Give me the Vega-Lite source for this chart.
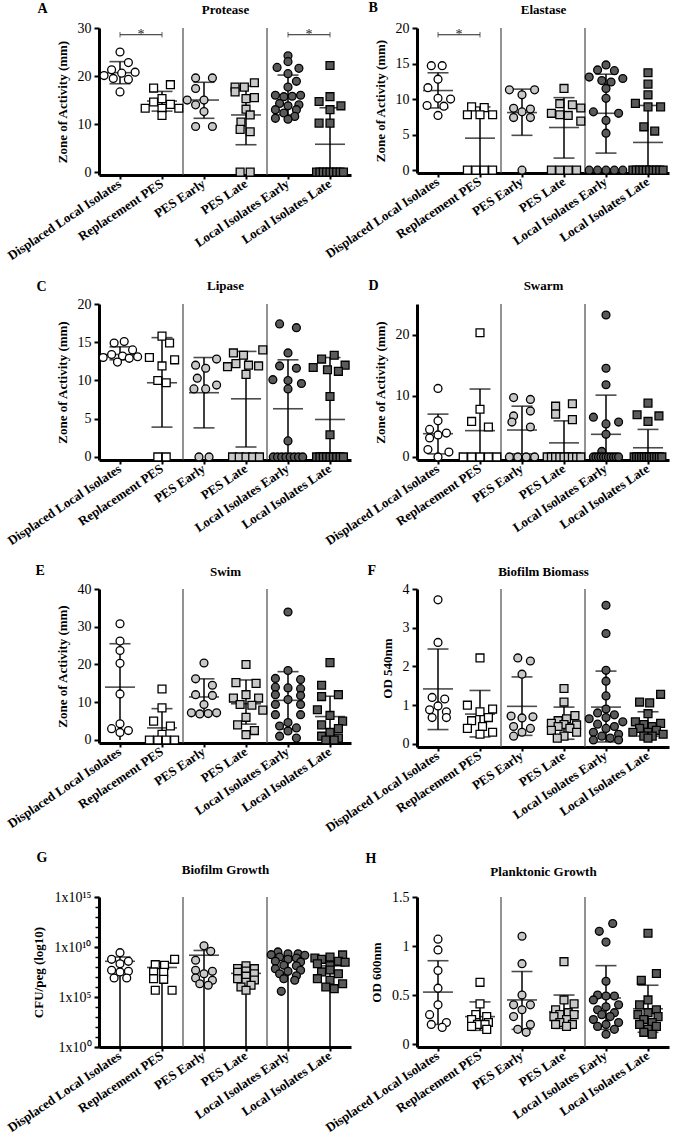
{
"$schema": "https://vega.github.io/schema/vega-lite/v6.json",
"padding": {"left": 5, "top": 0, "right": 2, "bottom": 0},
"background": "white",
"datasets": {
"sig": [
{"p":"A","g1":"DL","g2":"RP","y":28.6},{"p":"A","g1":"LE","g2":"LL","y":28.6},{"p":"B","g1":"DL","g2":"RP","y":19.05}
],
"sum": [
{"p":"A","g":"DL","mean":20.7,"lo":18.4,"hi":23.0},{"p":"A","g":"RP","mean":14.8,"lo":12.7,"hi":16.8},{"p":"A","g":"PE","mean":15.0,"lo":11.2,"hi":18.7},{"p":"A","g":"PL","mean":11.9,"lo":5.7,"hi":17.9},{"p":"A","g":"LE","mean":16.0,"lo":11.9,"hi":20.2},{"p":"A","g":"LL","mean":5.8,"lo":0,"hi":13.4},
{"p":"B","g":"DL","mean":11.2,"lo":8.75,"hi":13.7},{"p":"B","g":"RP","mean":4.5,"lo":0,"hi":8.9},{"p":"B","g":"PE","mean":8.1,"lo":4.9,"hi":11.4},{"p":"B","g":"PL","mean":6.0,"lo":1.7,"hi":10.2},{"p":"B","g":"LE","mean":8.0,"lo":2.4,"hi":13.5},{"p":"B","g":"LL","mean":3.9,"lo":0,"hi":9.1},
{"p":"C","g":"DL","mean":13.4,"lo":12.7,"hi":14.4},{"p":"C","g":"RP","mean":9.7,"lo":3.9,"hi":15.6},{"p":"C","g":"PE","mean":8.4,"lo":3.8,"hi":13.0},{"p":"C","g":"PL","mean":7.6,"lo":1.3,"hi":13.8},{"p":"C","g":"LE","mean":6.3,"lo":0,"hi":12.7},{"p":"C","g":"LL","mean":4.9,"lo":0,"hi":13.0},
{"p":"D","g":"DL","mean":3.8,"lo":0.5,"hi":7.0},{"p":"D","g":"RP","mean":4.3,"lo":0,"hi":11.1},{"p":"D","g":"PE","mean":4.4,"lo":0.5,"hi":8.3},{"p":"D","g":"PL","mean":2.3,"lo":0,"hi":5.9},{"p":"D","g":"LE","mean":3.7,"lo":0,"hi":10.1},{"p":"D","g":"LL","mean":1.5,"lo":0,"hi":4.5},
{"p":"E","g":"DL","mean":14.0,"lo":0,"hi":25.5},{"p":"E","g":"RP","mean":3.2,"lo":0,"hi":8.3},{"p":"E","g":"PE","mean":11.4,"lo":6.8,"hi":16.2},{"p":"E","g":"PL","mean":9.6,"lo":4.2,"hi":15.9},{"p":"E","g":"LE","mean":10.5,"lo":2.9,"hi":18.1},{"p":"E","g":"LL","mean":6.2,"lo":0.9,"hi":11.6},
{"p":"F","g":"DL","mean":1.42,"lo":0.37,"hi":2.45},{"p":"F","g":"RP","mean":0.77,"lo":0.18,"hi":1.38},{"p":"F","g":"PE","mean":0.97,"lo":0.22,"hi":1.73},{"p":"F","g":"PL","mean":0.52,"lo":0.12,"hi":0.95},{"p":"F","g":"LE","mean":0.95,"lo":0.05,"hi":1.88},{"p":"F","g":"LL","mean":0.52,"lo":0.2,"hi":0.83},
{"p":"G","g":"DL","mean":3.7e8,"lo":1,"hi":1.0e9},{"p":"G","g":"RP","mean":9e7,"lo":1,"hi":2.5e8},{"p":"G","g":"PE","mean":1.5e9,"lo":1,"hi":4.5e9},{"p":"G","g":"PL","mean":2.3e7,"lo":1,"hi":6e7},{"p":"G","g":"LE","mean":4.7e8,"lo":1,"hi":1.1e9},{"p":"G","g":"LL","mean":1.3e8,"lo":1,"hi":3.5e8},
{"p":"H","g":"DL","mean":0.53,"lo":0.2,"hi":0.85},{"p":"H","g":"RP","mean":0.28,"lo":0.14,"hi":0.43},{"p":"H","g":"PE","mean":0.45,"lo":0.15,"hi":0.74},{"p":"H","g":"PL","mean":0.33,"lo":0.16,"hi":0.5},{"p":"H","g":"LE","mean":0.47,"lo":0.15,"hi":0.8},{"p":"H","g":"LL","mean":0.36,"lo":0.12,"hi":0.6}
],
"pts": [
{"p":"A","g":"DL","v":25,"s":0},{"p":"A","g":"DL","v":22.8,"s":1},{"p":"A","g":"DL","v":21.3,"s":-1},{"p":"A","g":"DL","v":20.8,"s":1.8},{"p":"A","g":"DL","v":20.6,"s":0.2},{"p":"A","g":"DL","v":20.1,"s":-1.9},{"p":"A","g":"DL","v":19.5,"s":-0.8},{"p":"A","g":"DL","v":19.3,"s":1},{"p":"A","g":"DL","v":16.7,"s":0},
{"p":"A","g":"RP","v":18.2,"s":1},{"p":"A","g":"RP","v":17.5,"s":-1},{"p":"A","g":"RP","v":15.3,"s":0},{"p":"A","g":"RP","v":14.6,"s":-1},{"p":"A","g":"RP","v":14.1,"s":1},{"p":"A","g":"RP","v":13.3,"s":-2},{"p":"A","g":"RP","v":13.3,"s":0},{"p":"A","g":"RP","v":13.3,"s":2},{"p":"A","g":"RP","v":11.8,"s":0},
{"p":"A","g":"PE","v":19.6,"s":-1},{"p":"A","g":"PE","v":19.6,"s":1},{"p":"A","g":"PE","v":17.4,"s":-1},{"p":"A","g":"PE","v":15,"s":-2},{"p":"A","g":"PE","v":15,"s":0},{"p":"A","g":"PE","v":14,"s":-1},{"p":"A","g":"PE","v":12.6,"s":0},{"p":"A","g":"PE","v":9.5,"s":-1},{"p":"A","g":"PE","v":9.5,"s":1},
{"p":"A","g":"PL","v":18.6,"s":1},{"p":"A","g":"PL","v":17.7,"s":-1.3},{"p":"A","g":"PL","v":17.7,"s":-0.2},{"p":"A","g":"PL","v":16.7,"s":-1.3},{"p":"A","g":"PL","v":15.5,"s":1},{"p":"A","g":"PL","v":15.3,"s":0},{"p":"A","g":"PL","v":13.1,"s":0},{"p":"A","g":"PL","v":11.9,"s":0.5},{"p":"A","g":"PL","v":10.4,"s":-0.6},{"p":"A","g":"PL","v":8.9,"s":-0.7},{"p":"A","g":"PL","v":8.4,"s":0.5},{"p":"A","g":"PL","v":0,"s":-0.7},{"p":"A","g":"PL","v":0,"s":0.5},
{"p":"A","g":"LE","v":24.2,"s":0},{"p":"A","g":"LE","v":23,"s":0},{"p":"A","g":"LE","v":21.8,"s":-1.3},{"p":"A","g":"LE","v":21.6,"s":1.3},{"p":"A","g":"LE","v":20.5,"s":0},{"p":"A","g":"LE","v":18.9,"s":1},{"p":"A","g":"LE","v":17.7,"s":0},{"p":"A","g":"LE","v":16,"s":-1.5},{"p":"A","g":"LE","v":15.7,"s":-0.5},{"p":"A","g":"LE","v":15.8,"s":0.5},{"p":"A","g":"LE","v":16,"s":1.5},{"p":"A","g":"LE","v":14.3,"s":-1},{"p":"A","g":"LE","v":14,"s":1.3},{"p":"A","g":"LE","v":13.8,"s":0},{"p":"A","g":"LE","v":13,"s":-1.5},{"p":"A","g":"LE","v":13,"s":1},{"p":"A","g":"LE","v":12.3,"s":-0.5},{"p":"A","g":"LE","v":11.6,"s":0.8},{"p":"A","g":"LE","v":11.2,"s":-1.5},{"p":"A","g":"LE","v":11,"s":0},
{"p":"A","g":"LL","v":22.2,"s":0},{"p":"A","g":"LL","v":15.7,"s":0},{"p":"A","g":"LL","v":14.7,"s":-1.3},{"p":"A","g":"LL","v":13.8,"s":1.3},{"p":"A","g":"LL","v":13,"s":0},{"p":"A","g":"LL","v":10.2,"s":-1.3},{"p":"A","g":"LL","v":10.2,"s":0},{"p":"A","g":"LL","v":0,"s":-1.6},{"p":"A","g":"LL","v":0,"s":-1.2},{"p":"A","g":"LL","v":0,"s":-0.8},{"p":"A","g":"LL","v":0,"s":-0.4},{"p":"A","g":"LL","v":0,"s":0},{"p":"A","g":"LL","v":0,"s":0.4},{"p":"A","g":"LL","v":0,"s":0.8},{"p":"A","g":"LL","v":0,"s":1.2},{"p":"A","g":"LL","v":0,"s":1.6},
{"p":"B","g":"DL","v":14.7,"s":-0.8},{"p":"B","g":"DL","v":14.7,"s":0.5},{"p":"B","g":"DL","v":12.8,"s":0},{"p":"B","g":"DL","v":11.6,"s":-1.2},{"p":"B","g":"DL","v":10.1,"s":0},{"p":"B","g":"DL","v":10,"s":1.5},{"p":"B","g":"DL","v":9.1,"s":-1.3},{"p":"B","g":"DL","v":9,"s":0.7},{"p":"B","g":"DL","v":7.7,"s":0},
{"p":"B","g":"RP","v":8.9,"s":-1},{"p":"B","g":"RP","v":8.8,"s":0.5},{"p":"B","g":"RP","v":7.8,"s":-1.5},{"p":"B","g":"RP","v":7.8,"s":0},{"p":"B","g":"RP","v":7.8,"s":1.5},{"p":"B","g":"RP","v":0,"s":-1.5},{"p":"B","g":"RP","v":0,"s":-0.5},{"p":"B","g":"RP","v":0,"s":0.5},{"p":"B","g":"RP","v":0,"s":1.5},
{"p":"B","g":"PE","v":11.3,"s":-1.5},{"p":"B","g":"PE","v":11.3,"s":1.5},{"p":"B","g":"PE","v":10.6,"s":0},{"p":"B","g":"PE","v":8.7,"s":-1},{"p":"B","g":"PE","v":8.6,"s":1},{"p":"B","g":"PE","v":8.2,"s":0},{"p":"B","g":"PE","v":7.4,"s":-1},{"p":"B","g":"PE","v":7.4,"s":1},{"p":"B","g":"PE","v":0,"s":0},
{"p":"B","g":"PL","v":11.5,"s":0},{"p":"B","g":"PL","v":9.35,"s":-0.5},{"p":"B","g":"PL","v":9.2,"s":1},{"p":"B","g":"PL","v":8.75,"s":2},{"p":"B","g":"PL","v":8,"s":-1.5},{"p":"B","g":"PL","v":7.8,"s":-0.5},{"p":"B","g":"PL","v":7.7,"s":0.5},{"p":"B","g":"PL","v":6.9,"s":2},{"p":"B","g":"PL","v":0,"s":-1.5},{"p":"B","g":"PL","v":0,"s":-0.5},{"p":"B","g":"PL","v":0,"s":0.5},{"p":"B","g":"PL","v":0,"s":1.5},
{"p":"B","g":"LE","v":14.8,"s":0},{"p":"B","g":"LE","v":14.1,"s":-1},{"p":"B","g":"LE","v":14,"s":1},{"p":"B","g":"LE","v":13.1,"s":-2},{"p":"B","g":"LE","v":12.9,"s":2},{"p":"B","g":"LE","v":12.6,"s":-0.5},{"p":"B","g":"LE","v":12.4,"s":0.6},{"p":"B","g":"LE","v":11.5,"s":0},{"p":"B","g":"LE","v":10.1,"s":0},{"p":"B","g":"LE","v":8.2,"s":-1.5},{"p":"B","g":"LE","v":8,"s":1.5},{"p":"B","g":"LE","v":7,"s":0},{"p":"B","g":"LE","v":5.2,"s":0},{"p":"B","g":"LE","v":0,"s":-2},{"p":"B","g":"LE","v":0,"s":-1},{"p":"B","g":"LE","v":0,"s":0},{"p":"B","g":"LE","v":0,"s":1},{"p":"B","g":"LE","v":0,"s":2},
{"p":"B","g":"LL","v":13.7,"s":0},{"p":"B","g":"LL","v":12.1,"s":0},{"p":"B","g":"LL","v":10.6,"s":0},{"p":"B","g":"LL","v":9.4,"s":-1.5},{"p":"B","g":"LL","v":8.9,"s":0},{"p":"B","g":"LL","v":8.9,"s":1.5},{"p":"B","g":"LL","v":6.1,"s":-0.5},{"p":"B","g":"LL","v":5.5,"s":0.8},{"p":"B","g":"LL","v":0,"s":-1.8},{"p":"B","g":"LL","v":0,"s":-1.4},{"p":"B","g":"LL","v":0,"s":-1},{"p":"B","g":"LL","v":0,"s":-0.6},{"p":"B","g":"LL","v":0,"s":-0.2},{"p":"B","g":"LL","v":0,"s":0.2},{"p":"B","g":"LL","v":0,"s":0.6},{"p":"B","g":"LL","v":0,"s":1},{"p":"B","g":"LL","v":0,"s":1.4},{"p":"B","g":"LL","v":0,"s":1.8},
{"p":"C","g":"DL","v":15.1,"s":0.5},{"p":"C","g":"DL","v":14.9,"s":-0.7},{"p":"C","g":"DL","v":14,"s":1.5},{"p":"C","g":"DL","v":13.4,"s":-1},{"p":"C","g":"DL","v":13.2,"s":0.3},{"p":"C","g":"DL","v":13.1,"s":2.1},{"p":"C","g":"DL","v":13,"s":-2},{"p":"C","g":"DL","v":12.9,"s":1.1},{"p":"C","g":"DL","v":12.4,"s":-0.3},
{"p":"C","g":"RP","v":15.8,"s":0},{"p":"C","g":"RP","v":14.9,"s":0.9},{"p":"C","g":"RP","v":13,"s":-1.5},{"p":"C","g":"RP","v":12.7,"s":1.5},{"p":"C","g":"RP","v":11.9,"s":0},{"p":"C","g":"RP","v":10,"s":-0.5},{"p":"C","g":"RP","v":9.7,"s":0.5},{"p":"C","g":"RP","v":0,"s":-0.5},{"p":"C","g":"RP","v":0,"s":0.5},
{"p":"C","g":"PE","v":12.8,"s":1.5},{"p":"C","g":"PE","v":12,"s":-1},{"p":"C","g":"PE","v":11.6,"s":0.2},{"p":"C","g":"PE","v":10.3,"s":-0.8},{"p":"C","g":"PE","v":9.4,"s":1.5},{"p":"C","g":"PE","v":8.9,"s":-1.2},{"p":"C","g":"PE","v":8.9,"s":0.2},{"p":"C","g":"PE","v":0,"s":-0.6},{"p":"C","g":"PE","v":0,"s":0.6},
{"p":"C","g":"PL","v":14,"s":2},{"p":"C","g":"PL","v":13.6,"s":-1.5},{"p":"C","g":"PL","v":13.3,"s":-0.3},{"p":"C","g":"PL","v":12.2,"s":-1.2},{"p":"C","g":"PL","v":12,"s":0.3},{"p":"C","g":"PL","v":11.9,"s":1.5},{"p":"C","g":"PL","v":11.8,"s":-2.2},{"p":"C","g":"PL","v":10.8,"s":0},{"p":"C","g":"PL","v":0,"s":-1.6},{"p":"C","g":"PL","v":0,"s":-0.8},{"p":"C","g":"PL","v":0,"s":0},{"p":"C","g":"PL","v":0,"s":0.8},{"p":"C","g":"PL","v":0,"s":1.6},
{"p":"C","g":"LE","v":17.4,"s":-1},{"p":"C","g":"LE","v":16.9,"s":1},{"p":"C","g":"LE","v":13.6,"s":0},{"p":"C","g":"LE","v":11.9,"s":-1},{"p":"C","g":"LE","v":11.6,"s":1},{"p":"C","g":"LE","v":10.1,"s":-1.8},{"p":"C","g":"LE","v":10,"s":0},{"p":"C","g":"LE","v":9.6,"s":1.6},{"p":"C","g":"LE","v":8.9,"s":0},{"p":"C","g":"LE","v":2.1,"s":0},{"p":"C","g":"LE","v":0,"s":-1.75},{"p":"C","g":"LE","v":0,"s":-1.25},{"p":"C","g":"LE","v":0,"s":-0.75},{"p":"C","g":"LE","v":0,"s":-0.25},{"p":"C","g":"LE","v":0,"s":0.25},{"p":"C","g":"LE","v":0,"s":0.75},{"p":"C","g":"LE","v":0,"s":1.25},{"p":"C","g":"LE","v":0,"s":1.75},
{"p":"C","g":"LL","v":13.3,"s":0.5},{"p":"C","g":"LL","v":12.8,"s":-1},{"p":"C","g":"LL","v":12,"s":1.8},{"p":"C","g":"LL","v":11.7,"s":-2},{"p":"C","g":"LL","v":11.4,"s":-0.3},{"p":"C","g":"LL","v":11.2,"s":1},{"p":"C","g":"LL","v":7.9,"s":0},{"p":"C","g":"LL","v":2.9,"s":0},{"p":"C","g":"LL","v":0,"s":-1.6},{"p":"C","g":"LL","v":0,"s":-1.2},{"p":"C","g":"LL","v":0,"s":-0.8},{"p":"C","g":"LL","v":0,"s":-0.4},{"p":"C","g":"LL","v":0,"s":0},{"p":"C","g":"LL","v":0,"s":0.4},{"p":"C","g":"LL","v":0,"s":0.8},{"p":"C","g":"LL","v":0,"s":1.2},{"p":"C","g":"LL","v":0,"s":1.6},
{"p":"D","g":"DL","v":11.2,"s":0},{"p":"D","g":"DL","v":5.9,"s":0},{"p":"D","g":"DL","v":4.5,"s":-1},{"p":"D","g":"DL","v":3.9,"s":1},{"p":"D","g":"DL","v":3.6,"s":0},{"p":"D","g":"DL","v":3.1,"s":-1},{"p":"D","g":"DL","v":1.2,"s":-1.2},{"p":"D","g":"DL","v":0.8,"s":1.3},{"p":"D","g":"DL","v":0,"s":0},
{"p":"D","g":"RP","v":20.3,"s":0},{"p":"D","g":"RP","v":7.8,"s":0},{"p":"D","g":"RP","v":5.8,"s":-1},{"p":"D","g":"RP","v":4.9,"s":1},{"p":"D","g":"RP","v":0,"s":-2},{"p":"D","g":"RP","v":0,"s":-1},{"p":"D","g":"RP","v":0,"s":0},{"p":"D","g":"RP","v":0,"s":1},{"p":"D","g":"RP","v":0,"s":2},
{"p":"D","g":"PE","v":9.7,"s":-1},{"p":"D","g":"PE","v":9.4,"s":1},{"p":"D","g":"PE","v":7.5,"s":1},{"p":"D","g":"PE","v":6.7,"s":-1},{"p":"D","g":"PE","v":5.7,"s":-1.2},{"p":"D","g":"PE","v":4.9,"s":1},{"p":"D","g":"PE","v":0,"s":-1.5},{"p":"D","g":"PE","v":0,"s":-0.5},{"p":"D","g":"PE","v":0,"s":0.5},{"p":"D","g":"PE","v":0,"s":1.5},
{"p":"D","g":"PL","v":8.7,"s":1},{"p":"D","g":"PL","v":8.3,"s":-1},{"p":"D","g":"PL","v":7,"s":-1},{"p":"D","g":"PL","v":6.1,"s":1},{"p":"D","g":"PL","v":0,"s":-2},{"p":"D","g":"PL","v":0,"s":-1.5},{"p":"D","g":"PL","v":0,"s":-1},{"p":"D","g":"PL","v":0,"s":-0.5},{"p":"D","g":"PL","v":0,"s":0},{"p":"D","g":"PL","v":0,"s":0.5},{"p":"D","g":"PL","v":0,"s":1},{"p":"D","g":"PL","v":0,"s":1.5},{"p":"D","g":"PL","v":0,"s":2},
{"p":"D","g":"LE","v":23.2,"s":0},{"p":"D","g":"LE","v":14.5,"s":0},{"p":"D","g":"LE","v":11.8,"s":0},{"p":"D","g":"LE","v":6.5,"s":-1.5},{"p":"D","g":"LE","v":5.7,"s":1.5},{"p":"D","g":"LE","v":5.4,"s":0},{"p":"D","g":"LE","v":3.7,"s":0},{"p":"D","g":"LE","v":0.9,"s":-0.5},{"p":"D","g":"LE","v":0,"s":-1.5},{"p":"D","g":"LE","v":0,"s":-1.2},{"p":"D","g":"LE","v":0,"s":-0.9},{"p":"D","g":"LE","v":0,"s":-0.6},{"p":"D","g":"LE","v":0,"s":-0.3},{"p":"D","g":"LE","v":0,"s":0},{"p":"D","g":"LE","v":0,"s":0.3},{"p":"D","g":"LE","v":0,"s":0.6},{"p":"D","g":"LE","v":0,"s":0.9},{"p":"D","g":"LE","v":0,"s":1.2},{"p":"D","g":"LE","v":0,"s":1.5},
{"p":"D","g":"LL","v":8.8,"s":0},{"p":"D","g":"LL","v":6.9,"s":-1.3},{"p":"D","g":"LL","v":6.7,"s":1.3},{"p":"D","g":"LL","v":5.8,"s":0},{"p":"D","g":"LL","v":0,"s":-1.65},{"p":"D","g":"LL","v":0,"s":-1.35},{"p":"D","g":"LL","v":0,"s":-1.05},{"p":"D","g":"LL","v":0,"s":-0.75},{"p":"D","g":"LL","v":0,"s":-0.45},{"p":"D","g":"LL","v":0,"s":-0.15},{"p":"D","g":"LL","v":0,"s":0.15},{"p":"D","g":"LL","v":0,"s":0.45},{"p":"D","g":"LL","v":0,"s":0.75},{"p":"D","g":"LL","v":0,"s":1.05},{"p":"D","g":"LL","v":0,"s":1.35},{"p":"D","g":"LL","v":0,"s":1.65},
{"p":"E","g":"DL","v":30.8,"s":0},{"p":"E","g":"DL","v":26.2,"s":0},{"p":"E","g":"DL","v":23.7,"s":0},{"p":"E","g":"DL","v":20.3,"s":0},{"p":"E","g":"DL","v":12.2,"s":0},{"p":"E","g":"DL","v":4.3,"s":0},{"p":"E","g":"DL","v":3,"s":-1},{"p":"E","g":"DL","v":2.5,"s":1},{"p":"E","g":"DL","v":2,"s":0},
{"p":"E","g":"RP","v":13.5,"s":0},{"p":"E","g":"RP","v":8.5,"s":0},{"p":"E","g":"RP","v":5,"s":-1},{"p":"E","g":"RP","v":3.7,"s":1},{"p":"E","g":"RP","v":1.5,"s":0},{"p":"E","g":"RP","v":0,"s":-1.5},{"p":"E","g":"RP","v":0,"s":-0.5},{"p":"E","g":"RP","v":0,"s":0.5},{"p":"E","g":"RP","v":0,"s":1.5},
{"p":"E","g":"PE","v":20.4,"s":0},{"p":"E","g":"PE","v":16.2,"s":-1},{"p":"E","g":"PE","v":14.5,"s":1},{"p":"E","g":"PE","v":12,"s":-1},{"p":"E","g":"PE","v":11.8,"s":1},{"p":"E","g":"PE","v":9.4,"s":0},{"p":"E","g":"PE","v":7.2,"s":-1.5},{"p":"E","g":"PE","v":7.2,"s":1.5},{"p":"E","g":"PE","v":6.9,"s":-0.5},{"p":"E","g":"PE","v":7,"s":0.5},
{"p":"E","g":"PL","v":20,"s":0},{"p":"E","g":"PL","v":15.2,"s":-1.2},{"p":"E","g":"PL","v":15,"s":1.2},{"p":"E","g":"PL","v":12,"s":0},{"p":"E","g":"PL","v":11.1,"s":-1.5},{"p":"E","g":"PL","v":11.1,"s":1.5},{"p":"E","g":"PL","v":9.4,"s":-0.7},{"p":"E","g":"PL","v":9.2,"s":0.7},{"p":"E","g":"PL","v":7.9,"s":2},{"p":"E","g":"PL","v":6,"s":0},{"p":"E","g":"PL","v":4,"s":-1},{"p":"E","g":"PL","v":2.5,"s":1},{"p":"E","g":"PL","v":1.4,"s":0},
{"p":"E","g":"LE","v":33.9,"s":0},{"p":"E","g":"LE","v":18.4,"s":0},{"p":"E","g":"LE","v":16.3,"s":-1.5},{"p":"E","g":"LE","v":16,"s":1.5},{"p":"E","g":"LE","v":14,"s":-1.5},{"p":"E","g":"LE","v":13.8,"s":0},{"p":"E","g":"LE","v":13.6,"s":1.5},{"p":"E","g":"LE","v":12,"s":-1.5},{"p":"E","g":"LE","v":11.8,"s":1.5},{"p":"E","g":"LE","v":10.7,"s":0},{"p":"E","g":"LE","v":9.4,"s":-1.5},{"p":"E","g":"LE","v":9.4,"s":1.5},{"p":"E","g":"LE","v":6.7,"s":-1.5},{"p":"E","g":"LE","v":6.7,"s":1.5},{"p":"E","g":"LE","v":4.6,"s":0},{"p":"E","g":"LE","v":3.7,"s":-1},{"p":"E","g":"LE","v":3.2,"s":1},{"p":"E","g":"LE","v":2.4,"s":0},{"p":"E","g":"LE","v":1,"s":-1},{"p":"E","g":"LE","v":0.5,"s":1},
{"p":"E","g":"LL","v":20.5,"s":0},{"p":"E","g":"LL","v":14.5,"s":-1},{"p":"E","g":"LL","v":12,"s":1},{"p":"E","g":"LL","v":11.5,"s":-1},{"p":"E","g":"LL","v":8,"s":-1.5},{"p":"E","g":"LL","v":6.5,"s":0},{"p":"E","g":"LL","v":5,"s":1.5},{"p":"E","g":"LL","v":4,"s":-1},{"p":"E","g":"LL","v":3,"s":1},{"p":"E","g":"LL","v":2,"s":0},{"p":"E","g":"LL","v":1,"s":-1},{"p":"E","g":"LL","v":0.5,"s":1},{"p":"E","g":"LL","v":0,"s":-0.5},{"p":"E","g":"LL","v":0,"s":0.5},
{"p":"F","g":"DL","v":3.72,"s":0},{"p":"F","g":"DL","v":2.62,"s":0},{"p":"F","g":"DL","v":1.2,"s":-0.7},{"p":"F","g":"DL","v":1.16,"s":0.8},{"p":"F","g":"DL","v":0.98,"s":0},{"p":"F","g":"DL","v":0.88,"s":-1},{"p":"F","g":"DL","v":0.83,"s":1},{"p":"F","g":"DL","v":0.68,"s":-0.7},{"p":"F","g":"DL","v":0.68,"s":1},
{"p":"F","g":"RP","v":2.22,"s":0},{"p":"F","g":"RP","v":1,"s":-1.5},{"p":"F","g":"RP","v":0.9,"s":1.5},{"p":"F","g":"RP","v":0.83,"s":0},{"p":"F","g":"RP","v":0.68,"s":1},{"p":"F","g":"RP","v":0.6,"s":-1},{"p":"F","g":"RP","v":0.45,"s":0.3},{"p":"F","g":"RP","v":0.4,"s":-1.5},{"p":"F","g":"RP","v":0.3,"s":1.5},{"p":"F","g":"RP","v":0.25,"s":0},
{"p":"F","g":"PE","v":2.22,"s":-0.5},{"p":"F","g":"PE","v":2.14,"s":1},{"p":"F","g":"PE","v":1.8,"s":0},{"p":"F","g":"PE","v":0.72,"s":-1.3},{"p":"F","g":"PE","v":0.7,"s":1.3},{"p":"F","g":"PE","v":0.67,"s":0},{"p":"F","g":"PE","v":0.45,"s":-1},{"p":"F","g":"PE","v":0.4,"s":1},{"p":"F","g":"PE","v":0.3,"s":0},{"p":"F","g":"PE","v":0.2,"s":-1},
{"p":"F","g":"PL","v":1.43,"s":0},{"p":"F","g":"PL","v":1.08,"s":0},{"p":"F","g":"PL","v":0.73,"s":1.3},{"p":"F","g":"PL","v":0.65,"s":0.3},{"p":"F","g":"PL","v":0.6,"s":-0.7},{"p":"F","g":"PL","v":0.53,"s":-1.5},{"p":"F","g":"PL","v":0.5,"s":0},{"p":"F","g":"PL","v":0.49,"s":1.5},{"p":"F","g":"PL","v":0.45,"s":-0.7},{"p":"F","g":"PL","v":0.4,"s":0.7},{"p":"F","g":"PL","v":0.35,"s":-1.5},{"p":"F","g":"PL","v":0.3,"s":1.5},{"p":"F","g":"PL","v":0.2,"s":0},{"p":"F","g":"PL","v":0.15,"s":-0.8},
{"p":"F","g":"LE","v":3.58,"s":0},{"p":"F","g":"LE","v":2.85,"s":0},{"p":"F","g":"LE","v":1.9,"s":0},{"p":"F","g":"LE","v":1.62,"s":0},{"p":"F","g":"LE","v":1.24,"s":0},{"p":"F","g":"LE","v":0.9,"s":0},{"p":"F","g":"LE","v":0.8,"s":-1},{"p":"F","g":"LE","v":0.75,"s":1},{"p":"F","g":"LE","v":0.68,"s":0},{"p":"F","g":"LE","v":0.65,"s":-2},{"p":"F","g":"LE","v":0.57,"s":2},{"p":"F","g":"LE","v":0.51,"s":-1},{"p":"F","g":"LE","v":0.45,"s":1},{"p":"F","g":"LE","v":0.4,"s":0},{"p":"F","g":"LE","v":0.3,"s":-1.5},{"p":"F","g":"LE","v":0.25,"s":1.5},{"p":"F","g":"LE","v":0.2,"s":-0.5},{"p":"F","g":"LE","v":0.15,"s":0.5},{"p":"F","g":"LE","v":0.1,"s":-1.5},{"p":"F","g":"LE","v":0.1,"s":1.5},
{"p":"F","g":"LL","v":1.28,"s":1.5},{"p":"F","g":"LL","v":1.08,"s":-1},{"p":"F","g":"LL","v":1.06,"s":0.2},{"p":"F","g":"LL","v":0.78,"s":0},{"p":"F","g":"LL","v":0.57,"s":-1.5},{"p":"F","g":"LL","v":0.53,"s":1.5},{"p":"F","g":"LL","v":0.5,"s":-0.5},{"p":"F","g":"LL","v":0.45,"s":0.5},{"p":"F","g":"LL","v":0.4,"s":-1},{"p":"F","g":"LL","v":0.35,"s":1},{"p":"F","g":"LL","v":0.3,"s":0},{"p":"F","g":"LL","v":0.3,"s":-1.8},{"p":"F","g":"LL","v":0.25,"s":1.8},{"p":"F","g":"LL","v":0.2,"s":-0.5},{"p":"F","g":"LL","v":0.2,"s":0.5},{"p":"F","g":"LL","v":0.15,"s":0},
{"p":"G","g":"DL","v":2.7e9,"s":0},{"p":"G","g":"DL","v":5.9e8,"s":-1},{"p":"G","g":"DL","v":3.7e8,"s":1},{"p":"G","g":"DL","v":2.1e8,"s":0},{"p":"G","g":"DL","v":4.7e7,"s":-1},{"p":"G","g":"DL","v":3.7e7,"s":1},{"p":"G","g":"DL","v":3.2e7,"s":0},{"p":"G","g":"DL","v":8e6,"s":-0.7},{"p":"G","g":"DL","v":8e6,"s":0.8},
{"p":"G","g":"RP","v":5.9e8,"s":1.5},{"p":"G","g":"RP","v":1.7e8,"s":-0.8},{"p":"G","g":"RP","v":1.5e8,"s":0.3},{"p":"G","g":"RP","v":3.2e7,"s":-1},{"p":"G","g":"RP","v":3e7,"s":0.2},{"p":"G","g":"RP","v":6.8e6,"s":-1},{"p":"G","g":"RP","v":5.9e6,"s":0.2},{"p":"G","g":"RP","v":4.7e5,"s":-0.8},{"p":"G","g":"RP","v":4.7e5,"s":1.2},
{"p":"G","g":"PE","v":1.3e10,"s":0},{"p":"G","g":"PE","v":3.7e9,"s":0.8},{"p":"G","g":"PE","v":4.7e8,"s":-1},{"p":"G","g":"PE","v":4.7e7,"s":-1},{"p":"G","g":"PE","v":3.7e7,"s":1},{"p":"G","g":"PE","v":2.1e7,"s":0},{"p":"G","g":"PE","v":8e6,"s":-1},{"p":"G","g":"PE","v":4.7e6,"s":1},{"p":"G","g":"PE","v":2.1e6,"s":-0.5},{"p":"G","g":"PE","v":1.5e6,"s":0.5},
{"p":"G","g":"PL","v":1.3e8,"s":0},{"p":"G","g":"PL","v":7e7,"s":-1},{"p":"G","g":"PL","v":6.8e7,"s":1},{"p":"G","g":"PL","v":4e7,"s":0},{"p":"G","g":"PL","v":3e7,"s":-1},{"p":"G","g":"PL","v":2.1e7,"s":1},{"p":"G","g":"PL","v":1.2e7,"s":0},{"p":"G","g":"PL","v":6.8e6,"s":-1},{"p":"G","g":"PL","v":5e6,"s":1},{"p":"G","g":"PL","v":3e6,"s":0},{"p":"G","g":"PL","v":1.5e6,"s":0.6},{"p":"G","g":"PL","v":1e6,"s":-0.6},{"p":"G","g":"PL","v":4.7e5,"s":0},
{"p":"G","g":"LE","v":3.2e9,"s":-1.2},{"p":"G","g":"LE","v":2.1e9,"s":0},{"p":"G","g":"LE","v":2.1e9,"s":1.2},{"p":"G","g":"LE","v":1.7e9,"s":-2},{"p":"G","g":"LE","v":1.5e9,"s":2},{"p":"G","g":"LE","v":1e9,"s":-1},{"p":"G","g":"LE","v":8e8,"s":1},{"p":"G","g":"LE","v":5.9e8,"s":0},{"p":"G","g":"LE","v":3.7e8,"s":-1.5},{"p":"G","g":"LE","v":3.2e8,"s":1.5},{"p":"G","g":"LE","v":1.5e8,"s":-0.5},{"p":"G","g":"LE","v":1.3e8,"s":1},{"p":"G","g":"LE","v":6.8e7,"s":-1.5},{"p":"G","g":"LE","v":4.7e7,"s":1.5},{"p":"G","g":"LE","v":3.7e7,"s":0},{"p":"G","g":"LE","v":2.1e7,"s":-1},{"p":"G","g":"LE","v":1.3e7,"s":1},{"p":"G","g":"LE","v":6.8e6,"s":-0.5},{"p":"G","g":"LE","v":4.7e6,"s":0.8},{"p":"G","g":"LE","v":3.7e5,"s":-0.8},
{"p":"G","g":"LL","v":1.6e9,"s":1.5},{"p":"G","g":"LL","v":1e9,"s":0},{"p":"G","g":"LL","v":8e8,"s":-1.8},{"p":"G","g":"LL","v":5.9e8,"s":-1},{"p":"G","g":"LL","v":3.7e8,"s":1},{"p":"G","g":"LL","v":3e8,"s":1.8},{"p":"G","g":"LL","v":2.1e8,"s":-1.5},{"p":"G","g":"LL","v":1.3e8,"s":0},{"p":"G","g":"LL","v":5e7,"s":0},{"p":"G","g":"LL","v":3.2e7,"s":-1},{"p":"G","g":"LL","v":2.1e7,"s":1},{"p":"G","g":"LL","v":6.8e6,"s":-1.5},{"p":"G","g":"LL","v":4.7e6,"s":0},{"p":"G","g":"LL","v":2.1e6,"s":1.5},{"p":"G","g":"LL","v":1e6,"s":-0.5},{"p":"G","g":"LL","v":6.8e5,"s":0.5},
{"p":"H","g":"DL","v":1.07,"s":0},{"p":"H","g":"DL","v":0.96,"s":0},{"p":"H","g":"DL","v":0.75,"s":0},{"p":"H","g":"DL","v":0.57,"s":0},{"p":"H","g":"DL","v":0.4,"s":0},{"p":"H","g":"DL","v":0.3,"s":-1},{"p":"H","g":"DL","v":0.22,"s":1},{"p":"H","g":"DL","v":0.2,"s":-0.8},{"p":"H","g":"DL","v":0.17,"s":0.5},
{"p":"H","g":"RP","v":0.63,"s":0},{"p":"H","g":"RP","v":0.41,"s":0},{"p":"H","g":"RP","v":0.3,"s":-0.5},{"p":"H","g":"RP","v":0.28,"s":0.8},{"p":"H","g":"RP","v":0.25,"s":-1},{"p":"H","g":"RP","v":0.22,"s":1},{"p":"H","g":"RP","v":0.2,"s":-0.3},{"p":"H","g":"RP","v":0.2,"s":0.6},{"p":"H","g":"RP","v":0.18,"s":-1},{"p":"H","g":"RP","v":0.15,"s":0.8},
{"p":"H","g":"PE","v":1.1,"s":0},{"p":"H","g":"PE","v":0.82,"s":0},{"p":"H","g":"PE","v":0.5,"s":0},{"p":"H","g":"PE","v":0.4,"s":-1},{"p":"H","g":"PE","v":0.4,"s":1},{"p":"H","g":"PE","v":0.35,"s":0},{"p":"H","g":"PE","v":0.28,"s":-1},{"p":"H","g":"PE","v":0.2,"s":1},{"p":"H","g":"PE","v":0.15,"s":-0.5},{"p":"H","g":"PE","v":0.12,"s":0.5},
{"p":"H","g":"PL","v":0.84,"s":0},{"p":"H","g":"PL","v":0.45,"s":0},{"p":"H","g":"PL","v":0.41,"s":1.2},{"p":"H","g":"PL","v":0.35,"s":-1},{"p":"H","g":"PL","v":0.32,"s":0.5},{"p":"H","g":"PL","v":0.3,"s":-0.5},{"p":"H","g":"PL","v":0.3,"s":1.2},{"p":"H","g":"PL","v":0.28,"s":-1.2},{"p":"H","g":"PL","v":0.25,"s":0.3},{"p":"H","g":"PL","v":0.22,"s":-0.5},{"p":"H","g":"PL","v":0.2,"s":1},{"p":"H","g":"PL","v":0.2,"s":-1},{"p":"H","g":"PL","v":0.18,"s":0.3},
{"p":"H","g":"LE","v":1.23,"s":0.8},{"p":"H","g":"LE","v":1.15,"s":-0.8},{"p":"H","g":"LE","v":1.04,"s":0},{"p":"H","g":"LE","v":0.64,"s":0},{"p":"H","g":"LE","v":0.5,"s":-1},{"p":"H","g":"LE","v":0.49,"s":0},{"p":"H","g":"LE","v":0.49,"s":1},{"p":"H","g":"LE","v":0.45,"s":-1.5},{"p":"H","g":"LE","v":0.4,"s":1.5},{"p":"H","g":"LE","v":0.38,"s":0},{"p":"H","g":"LE","v":0.35,"s":-1},{"p":"H","g":"LE","v":0.32,"s":1},{"p":"H","g":"LE","v":0.3,"s":-0.5},{"p":"H","g":"LE","v":0.28,"s":0.5},{"p":"H","g":"LE","v":0.25,"s":-1.5},{"p":"H","g":"LE","v":0.22,"s":1.5},{"p":"H","g":"LE","v":0.2,"s":0},{"p":"H","g":"LE","v":0.18,"s":-1},{"p":"H","g":"LE","v":0.15,"s":1},{"p":"H","g":"LE","v":0.1,"s":0},
{"p":"H","g":"LL","v":1.13,"s":0},{"p":"H","g":"LL","v":0.72,"s":1},{"p":"H","g":"LL","v":0.65,"s":-0.8},{"p":"H","g":"LL","v":0.45,"s":0},{"p":"H","g":"LL","v":0.4,"s":-1},{"p":"H","g":"LL","v":0.35,"s":1},{"p":"H","g":"LL","v":0.32,"s":0},{"p":"H","g":"LL","v":0.3,"s":-1.2},{"p":"H","g":"LL","v":0.28,"s":1.2},{"p":"H","g":"LL","v":0.25,"s":-0.5},{"p":"H","g":"LL","v":0.22,"s":0.5},{"p":"H","g":"LL","v":0.2,"s":-1},{"p":"H","g":"LL","v":0.18,"s":1},{"p":"H","g":"LL","v":0.15,"s":0},{"p":"H","g":"LL","v":0.12,"s":-0.5},{"p":"H","g":"LL","v":0.1,"s":0.5}
]
},
"spacing": 15,
"vconcat": [
{"hconcat": [
{"width": 252, "height": 147, "resolve": {"axis": {"x": "independent", "y": "independent"}},
"layer": [
{"data": {"name": "sum"}, "transform": [{"filter": "datum.p=='A' && (datum.g=='PE' || datum.g=='LE')"}], "mark": {"type": "rule", "color": "#4a4a4a", "strokeWidth": 1.2},
 "encoding": {"x": {"field": "g", "type": "nominal", "bandPosition": 0, "scale": {"type": "band", "domain": ["DL","RP","PE","PL","LE","LL"], "paddingInner": 0, "paddingOuter": 0}, "axis": {"orient": "top", "title": "Protease", "labels": false, "ticks": false, "domain": false, "titleY": -15, "titleBaseline": "alphabetic"}}}},
{"data": {"name": "sum"}, "transform": [{"filter": "datum.p=='A'"}], "mark": {"type": "rule", "color": "black", "strokeWidth": 1.5},
 "encoding": {"x": {"field": "g", "type": "nominal", "axis": null}, "y": {"field": "lo", "type": "quantitative", "axis": {"orient": "left", "title": "A", "titleAngle": 0, "titleX": -62, "titleY": -16, "titleAlign": "left", "titleBaseline": "alphabetic", "titleFontSize": 14, "labels": false, "ticks": false, "domain": false}}, "y2": {"field": "hi"}}},
{"data": {"name": "sum"}, "transform": [{"filter": "datum.p=='A'"}], "mark": {"type": "tick", "orient": "horizontal", "color": "black", "thickness": 1.6, "size": 30},
 "encoding": {"x": {"field": "g", "type": "nominal", "axis": null}, "y": {"field": "mean", "type": "quantitative", "axis": null}}},
{"data": {"name": "sum"}, "transform": [{"filter": "datum.p=='A'"}], "mark": {"type": "tick", "orient": "horizontal", "color": "black", "thickness": 1.6, "size": 21},
 "encoding": {"x": {"field": "g", "type": "nominal", "axis": null}, "y": {"field": "hi", "type": "quantitative", "axis": null}}},
{"data": {"name": "sum"}, "transform": [{"filter": "datum.p=='A' && datum.lo > 0"}], "mark": {"type": "tick", "orient": "horizontal", "color": "black", "thickness": 1.6, "size": 21},
 "encoding": {"x": {"field": "g", "type": "nominal", "axis": null}, "y": {"field": "lo", "type": "quantitative", "axis": null}}},
{"data": {"name": "pts"}, "transform": [{"filter": "datum.p=='A'"}], "mark": {"type": "point", "filled": true, "stroke": "black", "strokeWidth": 1.3, "size": 62, "opacity": 1},
 "encoding": {"x": {"field": "g", "type": "nominal", "axis": {"orient": "bottom", "title": null, "labelExpr": "datum.value=='DL'?'Displaced Local Isolates':datum.value=='RP'?'Replacement PES':datum.value=='PE'?'PES Early':datum.value=='PL'?'PES Late':datum.value=='LE'?'Local Isolates Early':'Local Isolates Late'"}},
  "xOffset": {"field": "s", "type": "quantitative", "scale": {"domain": [-2.5, 2.5], "range": [0, 42]}},
  "y": {"field": "v", "type": "quantitative", "scale": {"domain": [-0.6, 30], "zero": false, "nice": false}, "axis": {"orient": "left", "title": "Zone of Activity (mm)", "values": [0, 10, 20, 30]}},
  "shape": {"field": "g", "type": "nominal", "scale": {"domain": ["DL","RP","PE","PL","LE","LL"], "range": ["circle","square","circle","square","circle","square"]}, "legend": null},
  "fill": {"field": "g", "type": "nominal", "scale": {"domain": ["DL","RP","PE","PL","LE","LL"], "range": ["#ffffff","#ffffff","#c8c8c8","#c8c8c8","#5a5a5a","#5a5a5a"]}, "legend": null}}},
{"data": {"name": "sig"}, "transform": [{"filter": "datum.p=='A'"}], "mark": {"type": "rule", "stroke": "#222222", "strokeWidth": 1},
 "encoding": {"x": {"field": "g1", "type": "nominal", "axis": null}, "x2": {"field": "g2"}, "y": {"field": "y", "type": "quantitative", "axis": null}}},
{"data": {"name": "sig"}, "transform": [{"filter": "datum.p=='A'"}, {"fold": ["g1", "g2"], "as": ["end", "gg"]}], "mark": {"type": "point", "shape": "M0,-1L0,1", "size": 30, "filled": false, "stroke": "#222222", "strokeWidth": 1},
 "encoding": {"x": {"field": "gg", "type": "nominal", "axis": null}, "y": {"field": "y", "type": "quantitative", "axis": null}}},
{"data": {"name": "sig"}, "transform": [{"filter": "datum.p=='A'"}], "mark": {"type": "text", "text": "*", "fontSize": 14, "baseline": "middle", "font": "Liberation Serif", "fill": "#222222"},
 "encoding": {"x": {"field": "g1", "type": "nominal", "bandPosition": 1, "axis": null}, "y": {"field": "y", "type": "quantitative", "axis": null}}}
]},
{"width": 252, "height": 145, "resolve": {"axis": {"x": "independent", "y": "independent"}},
"layer": [
{"data": {"name": "sum"}, "transform": [{"filter": "datum.p=='B' && (datum.g=='PE' || datum.g=='LE')"}], "mark": {"type": "rule", "color": "#4a4a4a", "strokeWidth": 1.2},
 "encoding": {"x": {"field": "g", "type": "nominal", "bandPosition": 0, "scale": {"type": "band", "domain": ["DL","RP","PE","PL","LE","LL"], "paddingInner": 0, "paddingOuter": 0}, "axis": {"orient": "top", "title": "Elastase", "labels": false, "ticks": false, "domain": false, "titleY": -15, "titleBaseline": "alphabetic"}}}},
{"data": {"name": "sum"}, "transform": [{"filter": "datum.p=='B'"}], "mark": {"type": "rule", "color": "black", "strokeWidth": 1.5},
 "encoding": {"x": {"field": "g", "type": "nominal", "axis": null}, "y": {"field": "lo", "type": "quantitative", "axis": {"orient": "left", "title": "B", "titleAngle": 0, "titleX": -49, "titleY": -17, "titleAlign": "left", "titleBaseline": "alphabetic", "titleFontSize": 14, "labels": false, "ticks": false, "domain": false}}, "y2": {"field": "hi"}}},
{"data": {"name": "sum"}, "transform": [{"filter": "datum.p=='B'"}], "mark": {"type": "tick", "orient": "horizontal", "color": "black", "thickness": 1.6, "size": 30},
 "encoding": {"x": {"field": "g", "type": "nominal", "axis": null}, "y": {"field": "mean", "type": "quantitative", "axis": null}}},
{"data": {"name": "sum"}, "transform": [{"filter": "datum.p=='B'"}], "mark": {"type": "tick", "orient": "horizontal", "color": "black", "thickness": 1.6, "size": 21},
 "encoding": {"x": {"field": "g", "type": "nominal", "axis": null}, "y": {"field": "hi", "type": "quantitative", "axis": null}}},
{"data": {"name": "sum"}, "transform": [{"filter": "datum.p=='B' && datum.lo > 0"}], "mark": {"type": "tick", "orient": "horizontal", "color": "black", "thickness": 1.6, "size": 21},
 "encoding": {"x": {"field": "g", "type": "nominal", "axis": null}, "y": {"field": "lo", "type": "quantitative", "axis": null}}},
{"data": {"name": "pts"}, "transform": [{"filter": "datum.p=='B'"}], "mark": {"type": "point", "filled": true, "stroke": "black", "strokeWidth": 1.3, "size": 62, "opacity": 1},
 "encoding": {"x": {"field": "g", "type": "nominal", "axis": {"orient": "bottom", "title": null, "labelExpr": "datum.value=='DL'?'Displaced Local Isolates':datum.value=='RP'?'Replacement PES':datum.value=='PE'?'PES Early':datum.value=='PL'?'PES Late':datum.value=='LE'?'Local Isolates Early':'Local Isolates Late'"}},
  "xOffset": {"field": "s", "type": "quantitative", "scale": {"domain": [-2.5, 2.5], "range": [0, 42]}},
  "y": {"field": "v", "type": "quantitative", "scale": {"domain": [-0.4, 20], "zero": false, "nice": false}, "axis": {"orient": "left", "title": "Zone of Activity (mm)", "values": [0, 5, 10, 15, 20]}},
  "shape": {"field": "g", "type": "nominal", "scale": {"domain": ["DL","RP","PE","PL","LE","LL"], "range": ["circle","square","circle","square","circle","square"]}, "legend": null},
  "fill": {"field": "g", "type": "nominal", "scale": {"domain": ["DL","RP","PE","PL","LE","LL"], "range": ["#ffffff","#ffffff","#c8c8c8","#c8c8c8","#5a5a5a","#5a5a5a"]}, "legend": null}}},
{"data": {"name": "sig"}, "transform": [{"filter": "datum.p=='B'"}], "mark": {"type": "rule", "stroke": "#222222", "strokeWidth": 1},
 "encoding": {"x": {"field": "g1", "type": "nominal", "axis": null}, "x2": {"field": "g2"}, "y": {"field": "y", "type": "quantitative", "axis": null}}},
{"data": {"name": "sig"}, "transform": [{"filter": "datum.p=='B'"}, {"fold": ["g1", "g2"], "as": ["end", "gg"]}], "mark": {"type": "point", "shape": "M0,-1L0,1", "size": 30, "filled": false, "stroke": "#222222", "strokeWidth": 1},
 "encoding": {"x": {"field": "gg", "type": "nominal", "axis": null}, "y": {"field": "y", "type": "quantitative", "axis": null}}},
{"data": {"name": "sig"}, "transform": [{"filter": "datum.p=='B'"}], "mark": {"type": "text", "text": "*", "fontSize": 14, "baseline": "middle", "font": "Liberation Serif", "fill": "#222222"},
 "encoding": {"x": {"field": "g1", "type": "nominal", "bandPosition": 1, "axis": null}, "y": {"field": "y", "type": "quantitative", "axis": null}}}
]}
], "spacing": 66, "bounds": "flush"},
{"hconcat": [
{"width": 252, "height": 156, "resolve": {"axis": {"x": "independent", "y": "independent"}},
"layer": [
{"data": {"name": "sum"}, "transform": [{"filter": "datum.p=='C' && (datum.g=='PE' || datum.g=='LE')"}], "mark": {"type": "rule", "color": "#4a4a4a", "strokeWidth": 1.2},
 "encoding": {"x": {"field": "g", "type": "nominal", "bandPosition": 0, "scale": {"type": "band", "domain": ["DL","RP","PE","PL","LE","LL"], "paddingInner": 0, "paddingOuter": 0}, "axis": {"orient": "top", "title": "Lipase", "labels": false, "ticks": false, "domain": false, "titleY": -15, "titleBaseline": "alphabetic"}}}},
{"data": {"name": "sum"}, "transform": [{"filter": "datum.p=='C'"}], "mark": {"type": "rule", "color": "black", "strokeWidth": 1.5},
 "encoding": {"x": {"field": "g", "type": "nominal", "axis": null}, "y": {"field": "lo", "type": "quantitative", "axis": {"orient": "left", "title": "C", "titleAngle": 0, "titleX": -63, "titleY": -14, "titleAlign": "left", "titleBaseline": "alphabetic", "titleFontSize": 14, "labels": false, "ticks": false, "domain": false}}, "y2": {"field": "hi"}}},
{"data": {"name": "sum"}, "transform": [{"filter": "datum.p=='C'"}], "mark": {"type": "tick", "orient": "horizontal", "color": "black", "thickness": 1.6, "size": 30},
 "encoding": {"x": {"field": "g", "type": "nominal", "axis": null}, "y": {"field": "mean", "type": "quantitative", "axis": null}}},
{"data": {"name": "sum"}, "transform": [{"filter": "datum.p=='C'"}], "mark": {"type": "tick", "orient": "horizontal", "color": "black", "thickness": 1.6, "size": 21},
 "encoding": {"x": {"field": "g", "type": "nominal", "axis": null}, "y": {"field": "hi", "type": "quantitative", "axis": null}}},
{"data": {"name": "sum"}, "transform": [{"filter": "datum.p=='C' && datum.lo > 0"}], "mark": {"type": "tick", "orient": "horizontal", "color": "black", "thickness": 1.6, "size": 21},
 "encoding": {"x": {"field": "g", "type": "nominal", "axis": null}, "y": {"field": "lo", "type": "quantitative", "axis": null}}},
{"data": {"name": "pts"}, "transform": [{"filter": "datum.p=='C'"}], "mark": {"type": "point", "filled": true, "stroke": "black", "strokeWidth": 1.3, "size": 62, "opacity": 1},
 "encoding": {"x": {"field": "g", "type": "nominal", "axis": {"orient": "bottom", "title": null, "labelExpr": "datum.value=='DL'?'Displaced Local Isolates':datum.value=='RP'?'Replacement PES':datum.value=='PE'?'PES Early':datum.value=='PL'?'PES Late':datum.value=='LE'?'Local Isolates Early':'Local Isolates Late'"}},
  "xOffset": {"field": "s", "type": "quantitative", "scale": {"domain": [-2.5, 2.5], "range": [0, 42]}},
  "y": {"field": "v", "type": "quantitative", "scale": {"domain": [-0.4, 20], "zero": false, "nice": false}, "axis": {"orient": "left", "title": "Zone of Activity (mm)", "values": [0, 5, 10, 15, 20]}},
  "shape": {"field": "g", "type": "nominal", "scale": {"domain": ["DL","RP","PE","PL","LE","LL"], "range": ["circle","square","circle","square","circle","square"]}, "legend": null},
  "fill": {"field": "g", "type": "nominal", "scale": {"domain": ["DL","RP","PE","PL","LE","LL"], "range": ["#ffffff","#ffffff","#c8c8c8","#c8c8c8","#5a5a5a","#5a5a5a"]}, "legend": null}}}
]},
{"width": 252, "height": 156, "resolve": {"axis": {"x": "independent", "y": "independent"}},
"layer": [
{"data": {"name": "sum"}, "transform": [{"filter": "datum.p=='D' && (datum.g=='PE' || datum.g=='LE')"}], "mark": {"type": "rule", "color": "#4a4a4a", "strokeWidth": 1.2},
 "encoding": {"x": {"field": "g", "type": "nominal", "bandPosition": 0, "scale": {"type": "band", "domain": ["DL","RP","PE","PL","LE","LL"], "paddingInner": 0, "paddingOuter": 0}, "axis": {"orient": "top", "title": "Swarm", "labels": false, "ticks": false, "domain": false, "titleY": -15, "titleBaseline": "alphabetic"}}}},
{"data": {"name": "sum"}, "transform": [{"filter": "datum.p=='D'"}], "mark": {"type": "rule", "color": "black", "strokeWidth": 1.5},
 "encoding": {"x": {"field": "g", "type": "nominal", "axis": null}, "y": {"field": "lo", "type": "quantitative", "axis": {"orient": "left", "title": "D", "titleAngle": 0, "titleX": -49, "titleY": -15, "titleAlign": "left", "titleBaseline": "alphabetic", "titleFontSize": 14, "labels": false, "ticks": false, "domain": false}}, "y2": {"field": "hi"}}},
{"data": {"name": "sum"}, "transform": [{"filter": "datum.p=='D'"}], "mark": {"type": "tick", "orient": "horizontal", "color": "black", "thickness": 1.6, "size": 30},
 "encoding": {"x": {"field": "g", "type": "nominal", "axis": null}, "y": {"field": "mean", "type": "quantitative", "axis": null}}},
{"data": {"name": "sum"}, "transform": [{"filter": "datum.p=='D'"}], "mark": {"type": "tick", "orient": "horizontal", "color": "black", "thickness": 1.6, "size": 21},
 "encoding": {"x": {"field": "g", "type": "nominal", "axis": null}, "y": {"field": "hi", "type": "quantitative", "axis": null}}},
{"data": {"name": "sum"}, "transform": [{"filter": "datum.p=='D' && datum.lo > 0"}], "mark": {"type": "tick", "orient": "horizontal", "color": "black", "thickness": 1.6, "size": 21},
 "encoding": {"x": {"field": "g", "type": "nominal", "axis": null}, "y": {"field": "lo", "type": "quantitative", "axis": null}}},
{"data": {"name": "pts"}, "transform": [{"filter": "datum.p=='D'"}], "mark": {"type": "point", "filled": true, "stroke": "black", "strokeWidth": 1.3, "size": 62, "opacity": 1},
 "encoding": {"x": {"field": "g", "type": "nominal", "axis": {"orient": "bottom", "title": null, "labelExpr": "datum.value=='DL'?'Displaced Local Isolates':datum.value=='RP'?'Replacement PES':datum.value=='PE'?'PES Early':datum.value=='PL'?'PES Late':datum.value=='LE'?'Local Isolates Early':'Local Isolates Late'"}},
  "xOffset": {"field": "s", "type": "quantitative", "scale": {"domain": [-2.5, 2.5], "range": [0, 42]}},
  "y": {"field": "v", "type": "quantitative", "scale": {"domain": [-0.5, 25], "zero": false, "nice": false}, "axis": {"orient": "left", "title": "Zone of Activity (mm)", "values": [0, 10, 20]}},
  "shape": {"field": "g", "type": "nominal", "scale": {"domain": ["DL","RP","PE","PL","LE","LL"], "range": ["circle","square","circle","square","circle","square"]}, "legend": null},
  "fill": {"field": "g", "type": "nominal", "scale": {"domain": ["DL","RP","PE","PL","LE","LL"], "range": ["#ffffff","#ffffff","#c8c8c8","#c8c8c8","#5a5a5a","#5a5a5a"]}, "legend": null}}}
]}
], "spacing": 66, "bounds": "flush"},
{"hconcat": [
{"width": 252, "height": 154, "resolve": {"axis": {"x": "independent", "y": "independent"}},
"layer": [
{"data": {"name": "sum"}, "transform": [{"filter": "datum.p=='E' && (datum.g=='PE' || datum.g=='LE')"}], "mark": {"type": "rule", "color": "#4a4a4a", "strokeWidth": 1.2},
 "encoding": {"x": {"field": "g", "type": "nominal", "bandPosition": 0, "scale": {"type": "band", "domain": ["DL","RP","PE","PL","LE","LL"], "paddingInner": 0, "paddingOuter": 0}, "axis": {"orient": "top", "title": "Swim", "labels": false, "ticks": false, "domain": false, "titleY": -14, "titleBaseline": "alphabetic"}}}},
{"data": {"name": "sum"}, "transform": [{"filter": "datum.p=='E'"}], "mark": {"type": "rule", "color": "black", "strokeWidth": 1.5},
 "encoding": {"x": {"field": "g", "type": "nominal", "axis": null}, "y": {"field": "lo", "type": "quantitative", "axis": {"orient": "left", "title": "E", "titleAngle": 0, "titleX": -64, "titleY": -15, "titleAlign": "left", "titleBaseline": "alphabetic", "titleFontSize": 14, "labels": false, "ticks": false, "domain": false}}, "y2": {"field": "hi"}}},
{"data": {"name": "sum"}, "transform": [{"filter": "datum.p=='E'"}], "mark": {"type": "tick", "orient": "horizontal", "color": "black", "thickness": 1.6, "size": 30},
 "encoding": {"x": {"field": "g", "type": "nominal", "axis": null}, "y": {"field": "mean", "type": "quantitative", "axis": null}}},
{"data": {"name": "sum"}, "transform": [{"filter": "datum.p=='E'"}], "mark": {"type": "tick", "orient": "horizontal", "color": "black", "thickness": 1.6, "size": 21},
 "encoding": {"x": {"field": "g", "type": "nominal", "axis": null}, "y": {"field": "hi", "type": "quantitative", "axis": null}}},
{"data": {"name": "sum"}, "transform": [{"filter": "datum.p=='E' && datum.lo > 0"}], "mark": {"type": "tick", "orient": "horizontal", "color": "black", "thickness": 1.6, "size": 21},
 "encoding": {"x": {"field": "g", "type": "nominal", "axis": null}, "y": {"field": "lo", "type": "quantitative", "axis": null}}},
{"data": {"name": "pts"}, "transform": [{"filter": "datum.p=='E'"}], "mark": {"type": "point", "filled": true, "stroke": "black", "strokeWidth": 1.3, "size": 62, "opacity": 1},
 "encoding": {"x": {"field": "g", "type": "nominal", "axis": {"orient": "bottom", "title": null, "labelExpr": "datum.value=='DL'?'Displaced Local Isolates':datum.value=='RP'?'Replacement PES':datum.value=='PE'?'PES Early':datum.value=='PL'?'PES Late':datum.value=='LE'?'Local Isolates Early':'Local Isolates Late'"}},
  "xOffset": {"field": "s", "type": "quantitative", "scale": {"domain": [-2.5, 2.5], "range": [0, 42]}},
  "y": {"field": "v", "type": "quantitative", "scale": {"domain": [-0.8, 40], "zero": false, "nice": false}, "axis": {"orient": "left", "title": "Zone of Activity (mm)", "values": [0, 10, 20, 30, 40]}},
  "shape": {"field": "g", "type": "nominal", "scale": {"domain": ["DL","RP","PE","PL","LE","LL"], "range": ["circle","square","circle","square","circle","square"]}, "legend": null},
  "fill": {"field": "g", "type": "nominal", "scale": {"domain": ["DL","RP","PE","PL","LE","LL"], "range": ["#ffffff","#ffffff","#c8c8c8","#c8c8c8","#5a5a5a","#5a5a5a"]}, "legend": null}}}
]},
{"width": 252, "height": 158, "resolve": {"axis": {"x": "independent", "y": "independent"}},
"layer": [
{"data": {"name": "sum"}, "transform": [{"filter": "datum.p=='F' && (datum.g=='PE' || datum.g=='LE')"}], "mark": {"type": "rule", "color": "#4a4a4a", "strokeWidth": 1.2},
 "encoding": {"x": {"field": "g", "type": "nominal", "bandPosition": 0, "scale": {"type": "band", "domain": ["DL","RP","PE","PL","LE","LL"], "paddingInner": 0, "paddingOuter": 0}, "axis": {"orient": "top", "title": "Biofilm Biomass", "labels": false, "ticks": false, "domain": false, "titleY": -14, "titleBaseline": "alphabetic"}}}},
{"data": {"name": "sum"}, "transform": [{"filter": "datum.p=='F'"}], "mark": {"type": "rule", "color": "black", "strokeWidth": 1.5},
 "encoding": {"x": {"field": "g", "type": "nominal", "axis": null}, "y": {"field": "lo", "type": "quantitative", "axis": {"orient": "left", "title": "F", "titleAngle": 0, "titleX": -50, "titleY": -15, "titleAlign": "left", "titleBaseline": "alphabetic", "titleFontSize": 14, "labels": false, "ticks": false, "domain": false}}, "y2": {"field": "hi"}}},
{"data": {"name": "sum"}, "transform": [{"filter": "datum.p=='F'"}], "mark": {"type": "tick", "orient": "horizontal", "color": "black", "thickness": 1.6, "size": 30},
 "encoding": {"x": {"field": "g", "type": "nominal", "axis": null}, "y": {"field": "mean", "type": "quantitative", "axis": null}}},
{"data": {"name": "sum"}, "transform": [{"filter": "datum.p=='F'"}], "mark": {"type": "tick", "orient": "horizontal", "color": "black", "thickness": 1.6, "size": 21},
 "encoding": {"x": {"field": "g", "type": "nominal", "axis": null}, "y": {"field": "hi", "type": "quantitative", "axis": null}}},
{"data": {"name": "sum"}, "transform": [{"filter": "datum.p=='F' && datum.lo > 0"}], "mark": {"type": "tick", "orient": "horizontal", "color": "black", "thickness": 1.6, "size": 21},
 "encoding": {"x": {"field": "g", "type": "nominal", "axis": null}, "y": {"field": "lo", "type": "quantitative", "axis": null}}},
{"data": {"name": "pts"}, "transform": [{"filter": "datum.p=='F'"}], "mark": {"type": "point", "filled": true, "stroke": "black", "strokeWidth": 1.3, "size": 62, "opacity": 1},
 "encoding": {"x": {"field": "g", "type": "nominal", "axis": {"orient": "bottom", "title": null, "labelExpr": "datum.value=='DL'?'Displaced Local Isolates':datum.value=='RP'?'Replacement PES':datum.value=='PE'?'PES Early':datum.value=='PL'?'PES Late':datum.value=='LE'?'Local Isolates Early':'Local Isolates Late'"}},
  "xOffset": {"field": "s", "type": "quantitative", "scale": {"domain": [-2.5, 2.5], "range": [0, 42]}},
  "y": {"field": "v", "type": "quantitative", "scale": {"domain": [-0.08, 4], "zero": false, "nice": false}, "axis": {"orient": "left", "title": "OD 540nm", "values": [0, 1, 2, 3, 4]}},
  "shape": {"field": "g", "type": "nominal", "scale": {"domain": ["DL","RP","PE","PL","LE","LL"], "range": ["circle","square","circle","square","circle","square"]}, "legend": null},
  "fill": {"field": "g", "type": "nominal", "scale": {"domain": ["DL","RP","PE","PL","LE","LL"], "range": ["#ffffff","#ffffff","#c8c8c8","#c8c8c8","#5a5a5a","#5a5a5a"]}, "legend": null}}}
]}
], "spacing": 66, "bounds": "flush"},
{"hconcat": [
{"width": 252, "height": 150, "resolve": {"axis": {"x": "independent", "y": "independent"}},
"layer": [
{"data": {"name": "sum"}, "transform": [{"filter": "datum.p=='G' && (datum.g=='PE' || datum.g=='LE')"}], "mark": {"type": "rule", "color": "#4a4a4a", "strokeWidth": 1.2},
 "encoding": {"x": {"field": "g", "type": "nominal", "bandPosition": 0, "scale": {"type": "band", "domain": ["DL","RP","PE","PL","LE","LL"], "paddingInner": 0, "paddingOuter": 0}, "axis": {"orient": "top", "title": "Biofilm Growth", "labels": false, "ticks": false, "domain": false, "titleY": -24, "titleBaseline": "alphabetic"}}}},
{"data": {"name": "sum"}, "transform": [{"filter": "datum.p=='G'"}], "mark": {"type": "rule", "color": "black", "strokeWidth": 1.5},
 "encoding": {"x": {"field": "g", "type": "nominal", "axis": null}, "y": {"field": "lo", "type": "quantitative", "axis": {"orient": "left", "title": "G", "titleAngle": 0, "titleX": -63, "titleY": -36, "titleAlign": "left", "titleBaseline": "alphabetic", "titleFontSize": 14, "labels": false, "ticks": false, "domain": false}}, "y2": {"field": "hi"}}},
{"data": {"name": "sum"}, "transform": [{"filter": "datum.p=='G'"}], "mark": {"type": "tick", "orient": "horizontal", "color": "black", "thickness": 1.6, "size": 30},
 "encoding": {"x": {"field": "g", "type": "nominal", "axis": null}, "y": {"field": "mean", "type": "quantitative", "axis": {"orient": "left", "title": null, "values": [1,10,100,1000,10000,100000,1000000,10000000,100000000,1000000000,10000000000,100000000000,1000000000000,10000000000000,100000000000000,1000000000000000], "labels": false, "domain": false, "tickSize": 4, "tickWidth": 1.5}}}},
{"data": {"name": "sum"}, "transform": [{"filter": "datum.p=='G'"}], "mark": {"type": "tick", "orient": "horizontal", "color": "black", "thickness": 1.6, "size": 21},
 "encoding": {"x": {"field": "g", "type": "nominal", "axis": null}, "y": {"field": "hi", "type": "quantitative", "axis": null}}},
{"data": {"name": "pts"}, "transform": [{"filter": "datum.p=='G'"}], "mark": {"type": "point", "filled": true, "stroke": "black", "strokeWidth": 1.3, "size": 62, "opacity": 1},
 "encoding": {"x": {"field": "g", "type": "nominal", "axis": {"orient": "bottom", "title": null, "labelExpr": "datum.value=='DL'?'Displaced Local Isolates':datum.value=='RP'?'Replacement PES':datum.value=='PE'?'PES Early':datum.value=='PL'?'PES Late':datum.value=='LE'?'Local Isolates Early':'Local Isolates Late'"}},
  "xOffset": {"field": "s", "type": "quantitative", "scale": {"domain": [-2.5, 2.5], "range": [0, 42]}},
  "y": {"field": "v", "type": "quantitative", "scale": {"type": "log", "domain": [1, 1000000000000000], "nice": false}, "axis": {"orient": "left", "title": "CFU/peg (log10)", "values": [1, 100000, 10000000000, 1000000000000000], "labelExpr": "datum.value > 1e14 ? '1x10¹⁵' : datum.value > 1e9 ? '1x10¹⁰' : datum.value > 1e4 ? '1x10⁵' : '1x10⁰'"}},
  "shape": {"field": "g", "type": "nominal", "scale": {"domain": ["DL","RP","PE","PL","LE","LL"], "range": ["circle","square","circle","square","circle","square"]}, "legend": null},
  "fill": {"field": "g", "type": "nominal", "scale": {"domain": ["DL","RP","PE","PL","LE","LL"], "range": ["#ffffff","#ffffff","#c8c8c8","#c8c8c8","#5a5a5a","#5a5a5a"]}, "legend": null}}}
]},
{"width": 252, "height": 150, "resolve": {"axis": {"x": "independent", "y": "independent"}},
"layer": [
{"data": {"name": "sum"}, "transform": [{"filter": "datum.p=='H' && (datum.g=='PE' || datum.g=='LE')"}], "mark": {"type": "rule", "color": "#4a4a4a", "strokeWidth": 1.2},
 "encoding": {"x": {"field": "g", "type": "nominal", "bandPosition": 0, "scale": {"type": "band", "domain": ["DL","RP","PE","PL","LE","LL"], "paddingInner": 0, "paddingOuter": 0}, "axis": {"orient": "top", "title": "Planktonic Growth", "labels": false, "ticks": false, "domain": false, "titleY": -22, "titleBaseline": "alphabetic"}}}},
{"data": {"name": "sum"}, "transform": [{"filter": "datum.p=='H'"}], "mark": {"type": "rule", "color": "black", "strokeWidth": 1.5},
 "encoding": {"x": {"field": "g", "type": "nominal", "axis": null}, "y": {"field": "lo", "type": "quantitative", "axis": {"orient": "left", "title": "H", "titleAngle": 0, "titleX": -52, "titleY": -35, "titleAlign": "left", "titleBaseline": "alphabetic", "titleFontSize": 14, "labels": false, "ticks": false, "domain": false}}, "y2": {"field": "hi"}}},
{"data": {"name": "sum"}, "transform": [{"filter": "datum.p=='H'"}], "mark": {"type": "tick", "orient": "horizontal", "color": "black", "thickness": 1.6, "size": 30},
 "encoding": {"x": {"field": "g", "type": "nominal", "axis": null}, "y": {"field": "mean", "type": "quantitative", "axis": null}}},
{"data": {"name": "sum"}, "transform": [{"filter": "datum.p=='H'"}], "mark": {"type": "tick", "orient": "horizontal", "color": "black", "thickness": 1.6, "size": 21},
 "encoding": {"x": {"field": "g", "type": "nominal", "axis": null}, "y": {"field": "hi", "type": "quantitative", "axis": null}}},
{"data": {"name": "sum"}, "transform": [{"filter": "datum.p=='H' && datum.lo > 0"}], "mark": {"type": "tick", "orient": "horizontal", "color": "black", "thickness": 1.6, "size": 21},
 "encoding": {"x": {"field": "g", "type": "nominal", "axis": null}, "y": {"field": "lo", "type": "quantitative", "axis": null}}},
{"data": {"name": "pts"}, "transform": [{"filter": "datum.p=='H'"}], "mark": {"type": "point", "filled": true, "stroke": "black", "strokeWidth": 1.3, "size": 62, "opacity": 1},
 "encoding": {"x": {"field": "g", "type": "nominal", "axis": {"orient": "bottom", "title": null, "labelExpr": "datum.value=='DL'?'Displaced Local Isolates':datum.value=='RP'?'Replacement PES':datum.value=='PE'?'PES Early':datum.value=='PL'?'PES Late':datum.value=='LE'?'Local Isolates Early':'Local Isolates Late'"}},
  "xOffset": {"field": "s", "type": "quantitative", "scale": {"domain": [-2.5, 2.5], "range": [0, 42]}},
  "y": {"field": "v", "type": "quantitative", "scale": {"domain": [-0.03, 1.5], "zero": false, "nice": false}, "axis": {"orient": "left", "title": "OD 600nm", "values": [0, 0.5, 1, 1.5], "format": "~g"}},
  "shape": {"field": "g", "type": "nominal", "scale": {"domain": ["DL","RP","PE","PL","LE","LL"], "range": ["circle","square","circle","square","circle","square"]}, "legend": null},
  "fill": {"field": "g", "type": "nominal", "scale": {"domain": ["DL","RP","PE","PL","LE","LL"], "range": ["#ffffff","#ffffff","#c8c8c8","#c8c8c8","#5a5a5a","#5a5a5a"]}, "legend": null}}}
]}
], "spacing": 66, "bounds": "flush"}
],
"config": {
 "font": "Liberation Serif",
 "view": {"stroke": null},
 "axis": {"grid": false, "labelFont": "Liberation Serif", "titleFont": "Liberation Serif", "labelFontSize": 14, "titleFontSize": 13, "titleFontWeight": "bold", "labelColor": "black", "titleColor": "black", "domainColor": "black", "tickColor": "black"},
 "axisLeft": {"domainWidth": 3, "tickWidth": 2, "tickSize": 5, "labelPadding": 3, "titlePadding": 8},
 "axisBottom": {"domainWidth": 3, "tickWidth": 2, "tickSize": 4, "labelAngle": -34, "labelFontSize": 13, "labelFontWeight": "bold", "labelAlign": "right", "labelBaseline": "middle", "labelPadding": 3}
}
}
